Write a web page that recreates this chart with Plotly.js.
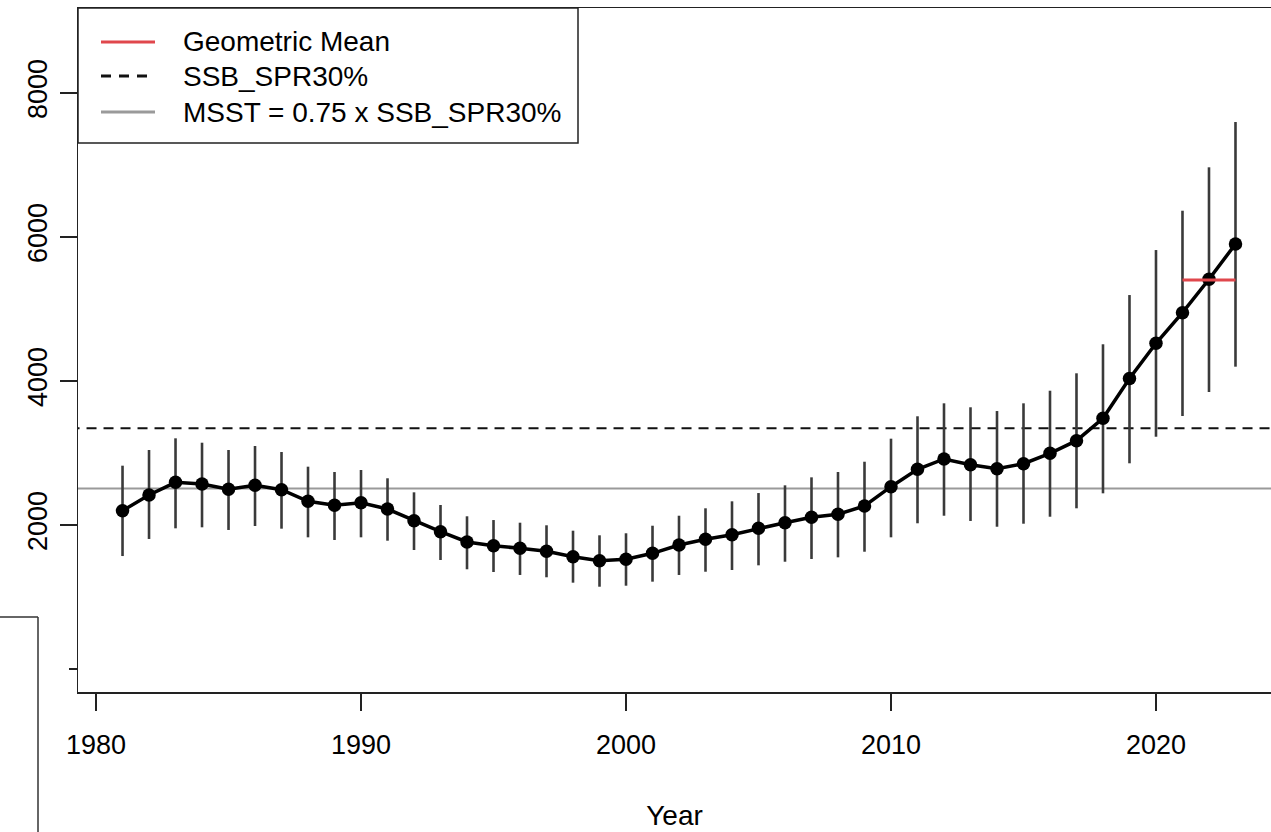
<!DOCTYPE html>
<html>
<head>
<meta charset="utf-8">
<script src="https://cdn.plot.ly/plotly-3.0.1.min.js"></script>
<style>
html,body{margin:0;padding:0;background:#fff;overflow:hidden;}
#chart{width:1271px;height:832px;}
</style>
</head>
<body>
<div id="chart"></div>
<script>
// ---- data ----
const years = [1981,1982,1983,1984,1985,1986,1987,1988,1989,1990,
               1991,1992,1993,1994,1995,1996,1997,1998,1999,2000,
               2001,2002,2003,2004,2005,2006,2007,2008,2009,2010,
               2011,2012,2013,2014,2015,2016,2017,2018,2019,2020,
               2021,2022,2023];
const ssb = [2199,2417,2593,2569,2496,2551,2490,2329,2274,2310,
             2222,2060,1907,1764,1713,1676,1635,1560,1504,1524,
             1607,1722,1801,1865,1954,2032,2107,2149,2264,2532,
             2774,2917,2838,2782,2851,2996,3171,3482,4035,4524,
             4949,5413,5903];
const ssbUpper = [2824,3042,3204,3143,3042,3097,3014,2810,2736,2764,
                  2649,2454,2278,2121,2069,2032,1996,1921,1857,1885,
                  1990,2129,2232,2329,2444,2551,2662,2736,2879,3199,
                  3510,3690,3635,3583,3690,3865,4107,4510,5194,5819,
                  6365,6968,7597];
const ssbLower = [1569,1806,1954,1968,1931,1986,1949,1829,1792,1829,
                  1782,1653,1514,1385,1347,1306,1274,1199,1143,1157,
                  1213,1306,1351,1375,1440,1490,1528,1551,1629,1829,
                  2024,2129,2056,1976,2018,2115,2232,2440,2857,3226,
                  3514,3847,4199];
const ssbSpr30 = 3343;
const msst = 2507;              // 0.75 x SSB_SPR30%
const geoMeanYears = [2021, 2023];
const geoMeanValue = [5403, 5403];
const xTickVals = [1980,1990,2000,2010,2020];
const xTickText = ['1980','1990','2000','2010','2020'];
const yTickVals = [0,2000,4000,6000,8000];
const yTickText = ['','2000','4000','6000','8000'];
const legendLabels = ['Geometric Mean','SSB_SPR30%','MSST = 0.75 x SSB_SPR30%'];

// ---- layout geometry (pixels) ----
const W = 1271, H = 832;
const L = 78, T = 8, B = 692, R = 1271;
const pw = R - L, ph = B - T;
const px = x => (x - L) / pw;
const py = y => (B - y) / ph;
const FONT = '"Liberation Sans", Arial, Helvetica, sans-serif';

const errPlus = ssbUpper.map((u, i) => u - ssb[i]);
const errMinus = ssb.map((v, i) => v - ssbLower[i]);

const traces = [
  { // MSST
    x: [1979, 2026], y: [msst, msst], mode: 'lines', type: 'scatter',
    line: {color: '#9a9a9a', width: 2}, hoverinfo: 'skip', showlegend: false
  },
  { // SSB_SPR30
    x: [1979, 2026], y: [ssbSpr30, ssbSpr30], mode: 'lines', type: 'scatter',
    line: {color: '#111', width: 2, dash: '10px,7px'}, hoverinfo: 'skip', showlegend: false
  },
  { // error bars
    x: years, y: ssb, mode: 'markers', type: 'scatter',
    marker: {size: 1, color: 'rgba(0,0,0,0)'},
    error_y: {type: 'data', symmetric: false, array: errPlus, arrayminus: errMinus,
              width: 0, thickness: 2.6, color: '#3a3a3a'},
    hoverinfo: 'skip', showlegend: false
  },
  { // SSB line
    x: years, y: ssb, mode: 'lines+markers', type: 'scatter',
    line: {color: '#000', width: 3.5},
    marker: {size: 13.5, color: '#000'},
    showlegend: false
  },
  { // geometric mean
    x: geoMeanYears, y: geoMeanValue, mode: 'lines', type: 'scatter',
    line: {color: '#e0474c', width: 3}, showlegend: false
  }
];

// legend geometry
const legRows = [42, 76, 112];
const legLineX0 = 101, legLineX1 = 155, legTextX = 181;
const legStyles = [
  {color: '#e0474c', width: 3, dash: 'solid'},
  {color: '#111', width: 3, dash: '10px,8px'},
  {color: '#9a9a9a', width: 3, dash: 'solid'}
];

const shapes = [];
// legend box
shapes.push({type: 'rect', xref: 'paper', yref: 'paper',
  x0: px(78), x1: px(578), y0: py(143), y1: py(8),
  fillcolor: '#fff', line: {color: '#222', width: 1.5}, layer: 'above'});
legRows.forEach((yy, i) => {
  shapes.push({type: 'line', xref: 'paper', yref: 'paper',
    x0: px(legLineX0), x1: px(legLineX1), y0: py(yy), y1: py(yy),
    line: legStyles[i], layer: 'above'});
});
// cover for the partially hidden zero tick
shapes.push({type: 'rect', xref: 'paper', yref: 'paper',
  x0: px(0), x1: px(69), y0: py(700), y1: py(640),
  fillcolor: '#fff', line: {width: 0}, layer: 'above'});
// stray box edge at lower left
shapes.push({type: 'line', xref: 'paper', yref: 'paper',
  x0: px(0), x1: px(38), y0: py(617), y1: py(617),
  line: {color: '#333', width: 1.5}, layer: 'above'});
shapes.push({type: 'line', xref: 'paper', yref: 'paper',
  x0: px(38), x1: px(38), y0: py(617), y1: py(840),
  line: {color: '#333', width: 1.5}, layer: 'above'});

const annotations = legendLabels.map((t, i) => ({
  text: t, xref: 'paper', yref: 'paper', x: px(legTextX), y: py(legRows[i]),
  xanchor: 'left', yanchor: 'middle', showarrow: false,
  font: {family: FONT, size: 28, color: '#000'}
}));

const layout = {
  width: W, height: H,
  margin: {l: L, r: W - R, t: T, b: H - B, pad: 0},
  paper_bgcolor: '#fff', plot_bgcolor: '#fff',
  showlegend: false,
  font: {family: FONT, color: '#000'},
  xaxis: {
    range: [1979.32, 2024.34], showgrid: false, zeroline: false,
    showline: true, linecolor: '#222', linewidth: 1.5, mirror: true,
    ticks: 'outside', ticklen: 17, tickwidth: 1.5, tickcolor: '#222',
    tickvals: xTickVals, ticktext: xTickText,
    tickfont: {family: FONT, size: 27, color: '#000'},
    ticklabelstandoff: 11,
    title: {text: 'Year', font: {family: FONT, size: 28, color: '#000'}, standoff: 46}
  },
  yaxis: {
    range: [-319.4, 9180.6], showgrid: false, zeroline: false,
    showline: true, linecolor: '#222', linewidth: 1.5,
    ticks: 'outside', ticklen: 17, tickwidth: 1.5, tickcolor: '#222',
    tickvals: yTickVals, ticktext: yTickText, tickangle: -90,
    tickfont: {family: FONT, size: 27, color: '#000'},
    ticklabelstandoff: 2
  },
  shapes: shapes,
  annotations: annotations
};

Plotly.newPlot('chart', traces, layout, {displayModeBar: false, staticPlot: true});
</script>
</body>
</html>
